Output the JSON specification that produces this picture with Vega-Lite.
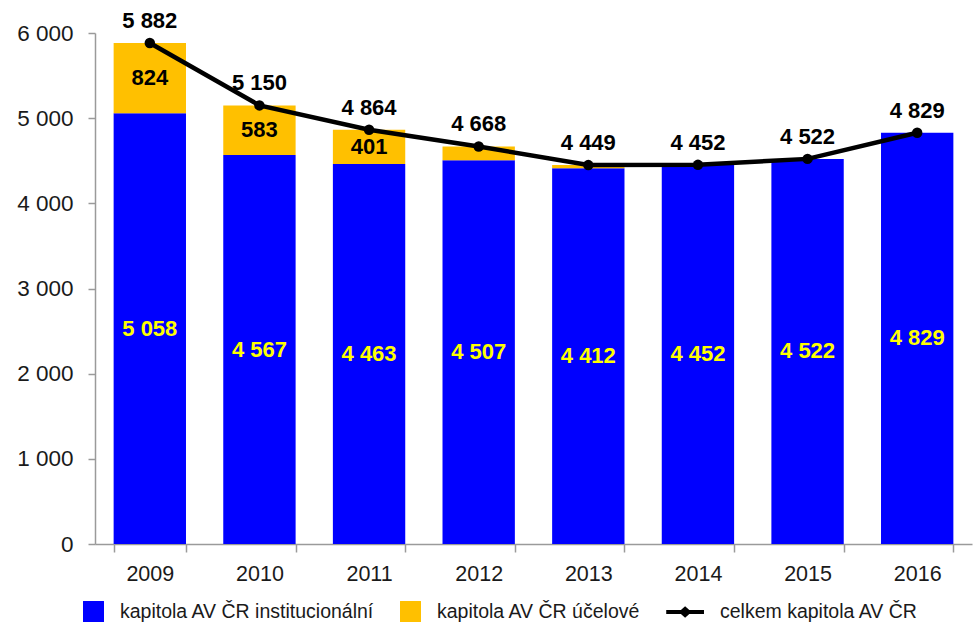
{
  "$schema": "https://vega.github.io/schema/vega-lite/v6.json",
  "width": 877,
  "height": 511,
  "autosize": {"type": "none"},
  "padding": {"left": 95, "top": 33, "right": 2, "bottom": 93},
  "background": "white",
  "config": {
    "locale": {"number": {"decimal": ",", "thousands": " ", "grouping": [3], "currency": ["", " Kč"]}},
    "view": {"stroke": null},
    "font": "Liberation Sans",
    "axis": {"grid": false, "domainColor": "#9a9a9a", "tickColor": "#9a9a9a", "domainWidth": 1.5, "tickWidth": 1.5, "labelFont": "Liberation Sans", "labelFontSize": 21.5, "labelColor": "#1a1a1a", "title": null}
  },
  "datasets": {
    "bars": [
      {"year": "2009", "series": "kapitola AV ČR institucionální", "o": 1, "value": 5058},
      {"year": "2009", "series": "kapitola AV ČR účelové", "o": 2, "value": 824},
      {"year": "2010", "series": "kapitola AV ČR institucionální", "o": 1, "value": 4567},
      {"year": "2010", "series": "kapitola AV ČR účelové", "o": 2, "value": 583},
      {"year": "2011", "series": "kapitola AV ČR institucionální", "o": 1, "value": 4463},
      {"year": "2011", "series": "kapitola AV ČR účelové", "o": 2, "value": 401},
      {"year": "2012", "series": "kapitola AV ČR institucionální", "o": 1, "value": 4507},
      {"year": "2012", "series": "kapitola AV ČR účelové", "o": 2, "value": 161},
      {"year": "2013", "series": "kapitola AV ČR institucionální", "o": 1, "value": 4412},
      {"year": "2013", "series": "kapitola AV ČR účelové", "o": 2, "value": 37},
      {"year": "2014", "series": "kapitola AV ČR institucionální", "o": 1, "value": 4452},
      {"year": "2015", "series": "kapitola AV ČR institucionální", "o": 1, "value": 4522},
      {"year": "2016", "series": "kapitola AV ČR institucionální", "o": 1, "value": 4829}
    ],
    "totals": [
      {"year": "2009", "total": 5882},
      {"year": "2010", "total": 5150},
      {"year": "2011", "total": 4864},
      {"year": "2012", "total": 4668},
      {"year": "2013", "total": 4449},
      {"year": "2014", "total": 4452},
      {"year": "2015", "total": 4522},
      {"year": "2016", "total": 4829}
    ]
  },
  "encoding": {
    "x": {
      "field": "year",
      "type": "ordinal",
      "scale": {"paddingInner": 0.34, "paddingOuter": 0.17},
      "axis": {"labelAngle": 0, "tickBand": "extent", "tickSize": 8, "labelPadding": 11, "title": null}
    }
  },
  "layer": [
    {
      "data": {"name": "bars"},
      "mark": {"type": "bar"},
      "encoding": {
        "y": {
          "field": "value",
          "type": "quantitative",
          "stack": "zero",
          "scale": {"domain": [0, 6000]},
          "axis": {"values": [0, 1000, 2000, 3000, 4000, 5000, 6000], "format": ",d", "tickSize": 7, "labelPadding": 15, "labelFontSize": 22.5, "title": null}
        },
        "order": {"field": "o", "type": "quantitative"},
        "color": {
          "field": "series",
          "type": "nominal",
          "scale": {
            "domain": ["kapitola AV ČR institucionální", "kapitola AV ČR účelové", "celkem kapitola AV ČR"],
            "range": ["#0000FF", "#FFC000", "#000000"]
          },
          "legend": {
            "orient": "none",
            "legendX": -12,
            "legendY": 568,
            "direction": "horizontal",
            "title": null,
            "padding": 0,
            "symbolSize": 440,
            "symbolStrokeWidth": 0,
            "labelFontSize": 19.5,
            "labelFont": "Liberation Sans",
            "labelColor": "#1a1a1a",
            "labelLimit": 500,
            "labelOffset": 16,
            "columnPadding": 25,
            "encode": {
              "symbols": {
                "update": {
                  "shape": {"signal": "datum.value === 'celkem kapitola AV ČR' ? 'M-2.6,-0.18L-1.2,-0.18L-0.8,-0.55L-0.4,-0.18L1,-0.18L1,0.18L-0.4,0.18L-0.8,0.55L-1.2,0.18L-2.6,0.18Z' : 'square'"}
                }
              }
            }
          }
        }
      }
    },
    {
      "data": {"name": "bars"},
      "transform": [
        {"stack": "value", "groupby": ["year"], "sort": [{"field": "o"}], "as": ["y0", "y1"]},
        {"filter": "datum.o === 1"},
        {"fold": ["y0", "y1"], "as": ["k", "v"]}
      ],
      "mark": {"type": "text", "font": "Liberation Sans", "fontWeight": "bold", "fontSize": 22, "color": "#FFFF00", "baseline": "middle"},
      "encoding": {
        "y": {"aggregate": "mean", "field": "v", "type": "quantitative"},
        "text": {"field": "value", "type": "quantitative", "format": ",d"}
      }
    },
    {
      "data": {"name": "bars"},
      "transform": [
        {"stack": "value", "groupby": ["year"], "sort": [{"field": "o"}], "as": ["y0", "y1"]},
        {"filter": "datum.o === 2 && datum.value > 300"},
        {"fold": ["y0", "y1"], "as": ["k", "v"]}
      ],
      "mark": {"type": "text", "font": "Liberation Sans", "fontWeight": "bold", "fontSize": 22, "color": "#000000", "baseline": "middle"},
      "encoding": {
        "y": {"aggregate": "mean", "field": "v", "type": "quantitative"},
        "text": {"field": "value", "type": "quantitative", "format": ",d"}
      }
    },
    {
      "data": {"name": "totals"},
      "mark": {"type": "line", "color": "#000000", "strokeWidth": 4.5, "point": {"filled": true, "size": 110, "color": "#000000"}},
      "encoding": {
        "y": {"field": "total", "type": "quantitative"}
      }
    },
    {
      "data": {"name": "totals"},
      "mark": {"type": "text", "font": "Liberation Sans", "fontWeight": "bold", "fontSize": 22, "color": "#000000", "baseline": "alphabetic", "dy": -15},
      "encoding": {
        "y": {"field": "total", "type": "quantitative"},
        "text": {"field": "total", "type": "quantitative", "format": ",d"}
      }
    }
  ]
}
